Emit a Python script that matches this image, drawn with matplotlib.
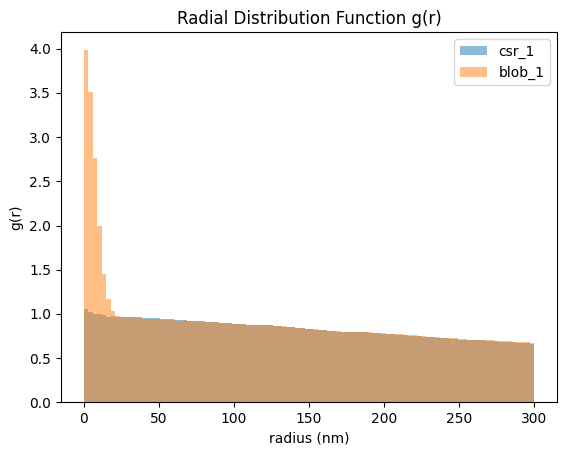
import matplotlib
matplotlib.use('Agg')
import matplotlib.pyplot as plt
import numpy as np

binEdges = np.arange(0, 303, 3)

csr1 = [1.05, 1.02, 1.00, 1.00, 0.99, 0.97, 0.98, 0.97, 0.97, 0.96,
        0.96, 0.96, 0.96, 0.95, 0.95, 0.95, 0.95, 0.94, 0.94, 0.94,
        0.93, 0.93, 0.93, 0.92, 0.92, 0.92, 0.92, 0.91, 0.91, 0.91,
        0.90, 0.90, 0.90, 0.89, 0.89, 0.89, 0.88, 0.88, 0.88, 0.87,
        0.87, 0.87, 0.86, 0.86, 0.85, 0.85, 0.85, 0.84, 0.84, 0.83,
        0.83, 0.82, 0.82, 0.82, 0.81, 0.81, 0.80, 0.80, 0.80, 0.79,
        0.79, 0.79, 0.79, 0.78, 0.78, 0.78, 0.77, 0.77, 0.77, 0.76,
        0.76, 0.76, 0.75, 0.75, 0.75, 0.74, 0.74, 0.74, 0.73, 0.73,
        0.73, 0.72, 0.72, 0.71, 0.71, 0.71, 0.70, 0.70, 0.70, 0.69,
        0.69, 0.69, 0.68, 0.68, 0.68, 0.68, 0.67, 0.67, 0.67, 0.66]

blob1 = [3.99, 3.51, 2.76, 1.99, 1.45, 1.17, 1.03, 0.98, 0.96, 0.96,
         0.96, 0.95, 0.95, 0.94, 0.94, 0.94, 0.94, 0.93, 0.93, 0.93,
         0.92, 0.92, 0.93, 0.92, 0.91, 0.92, 0.91, 0.91, 0.91, 0.91,
         0.90, 0.90, 0.90, 0.89, 0.89, 0.89, 0.88, 0.88, 0.88, 0.87,
         0.87, 0.87, 0.86, 0.86, 0.86, 0.85, 0.85, 0.84, 0.84, 0.83,
         0.83, 0.83, 0.82, 0.82, 0.81, 0.81, 0.81, 0.80, 0.80, 0.80,
         0.79, 0.79, 0.79, 0.79, 0.78, 0.78, 0.78, 0.77, 0.77, 0.77,
         0.77, 0.76, 0.76, 0.76, 0.75, 0.75, 0.74, 0.74, 0.74, 0.73,
         0.73, 0.73, 0.73, 0.72, 0.72, 0.71, 0.71, 0.71, 0.70, 0.70,
         0.70, 0.69, 0.69, 0.69, 0.69, 0.68, 0.68, 0.68, 0.68, 0.67]

fig = plt.figure(figsize=(5.67, 4.55), dpi=100)
fig.subplots_adjust(left=0.1076, right=0.9824, top=0.9297, bottom=0.1158)

plt.hist(binEdges[:-1], bins=binEdges, weights=csr1, alpha=0.5, label='csr_1')
plt.hist(binEdges[:-1], bins=binEdges, weights=blob1, alpha=0.5, label='blob_1')

plt.title('Radial Distribution Function g(r)')
plt.xlabel('radius (nm)')
plt.ylabel('g(r)')
plt.legend()

plt.savefig('out.png')
